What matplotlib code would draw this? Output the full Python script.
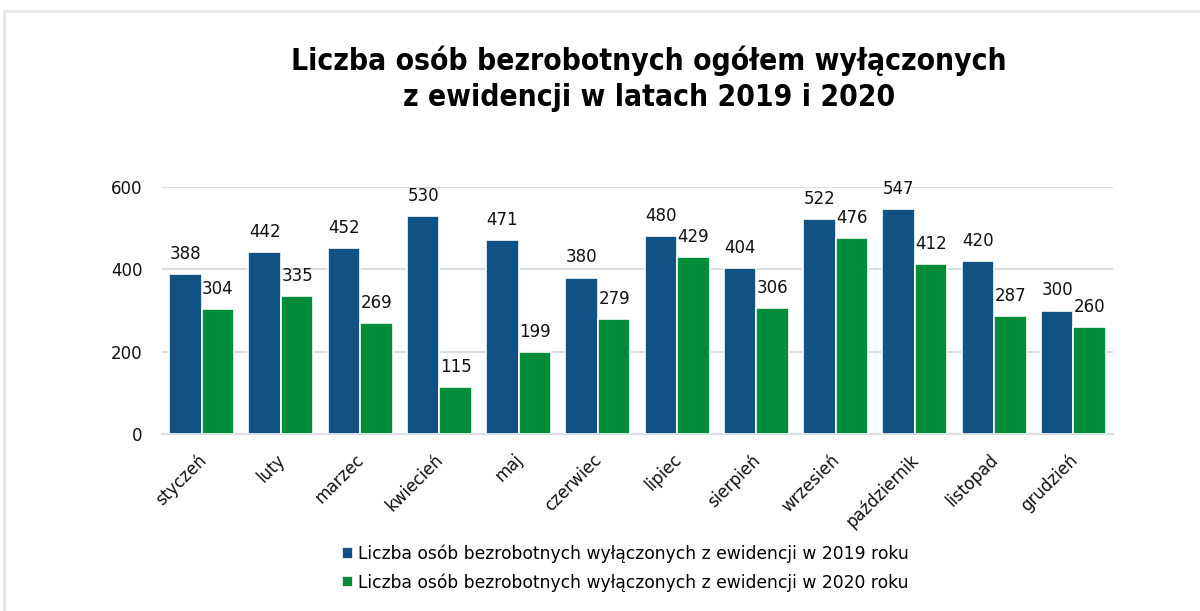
import numpy as np
import matplotlib
matplotlib.use("Agg")
import matplotlib.pyplot as plt
import matplotlib.transforms as mtransforms
from matplotlib.lines import Line2D

miesiace = ["styczeń", "luty", "marzec", "kwiecień", "maj", "czerwiec",
            "lipiec", "sierpień", "wrzesień", "październik", "listopad", "grudzień"]
rok_2019 = [388, 442, 452, 530, 471, 380, 480, 404, 522, 547, 420, 300]
rok_2020 = [304, 335, 269, 115, 199, 279, 429, 306, 476, 412, 287, 260]
etykiety = ["Liczba osób bezrobotnych wyłączonych z ewidencji w 2019 roku",
            "Liczba osób bezrobotnych wyłączonych z ewidencji w 2020 roku"]

niebieski = "#0F5283"
zielony = "#008D3A"
siatka = "#D9DEE3"

plt.rcParams["font.family"] = "DejaVu Sans"

fig = plt.figure(figsize=(12, 6.11), dpi=100)
ax = fig.add_axes([162 / 1200, 1 - 434 / 611, (1113 - 162) / 1200, (434 - 187) / 611])

x = np.arange(len(miesiace))
w = 0.41
b1 = ax.bar(x - w / 2, rok_2019, w, color=niebieski, edgecolor="white", linewidth=1.2,
            label=etykiety[0], zorder=3)
b2 = ax.bar(x + w / 2, rok_2020, w, color=zielony, edgecolor="white", linewidth=1.2,
            label=etykiety[1], zorder=3)
ax.bar_label(b1, padding=8, fontsize=12, color="#111111")
ax.bar_label(b2, padding=8, fontsize=12, color="#111111")

ax.set_xlim(-0.5, len(miesiace) - 0.5)
ax.set_ylim(0, 600)
ax.set_yticks([0, 200, 400, 600])
ax.grid(axis="y", color=siatka, linewidth=1.5, zorder=0)
ax.set_axisbelow(True)
for s in ["top", "right", "left"]:
    ax.spines[s].set_visible(False)
ax.spines["bottom"].set_color(siatka)
ax.spines["bottom"].set_linewidth(1.5)
ax.tick_params(length=0, labelsize=12, colors="#111111")
ax.tick_params(axis="y", pad=14)
ax.set_xticks(x)
ax.set_xticklabels(miesiace, rotation=45, ha="right", rotation_mode="anchor")
ax.tick_params(axis="x", pad=12)
przesun = mtransforms.ScaledTranslation(-5 / 100, 0, fig.dpi_scale_trans)
for lab in ax.get_xticklabels():
    lab.set_transform(lab.get_transform() + przesun)

fig.text(0.541, 1 - 79 / 611, "Liczba osób bezrobotnych ogółem wyłączonych\nz ewidencji w latach 2019 i 2020",
         ha="center", va="center", fontsize=21.5, fontweight="bold", fontstretch="condensed",
         linespacing=1.3)

fig.legend(loc="upper left", bbox_to_anchor=(333 / 1200, 1 - 536 / 611), ncol=1, frameon=False,
           fontsize=12.3, handlelength=0.65, handleheight=0.65, handletextpad=0.3,
           labelspacing=0.6, borderpad=0)

# ramka wokół wykresu
fig.add_artist(Line2D([4 / 1200, 1], [1 - 11 / 611, 1 - 11 / 611], color="#E3E6EA", lw=2))
fig.add_artist(Line2D([4 / 1200, 4 / 1200], [0, 1 - 11 / 611], color="#E3E6EA", lw=2))

fig.savefig("out.png", dpi=100, facecolor="white")
